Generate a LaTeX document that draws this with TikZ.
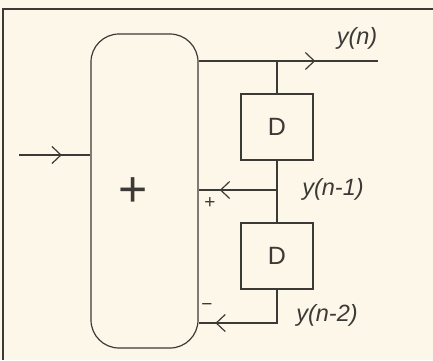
\documentclass[tikz,border=0pt]{standalone}
\usepackage{fontspec}
\setmainfont{Liberation Sans}
\usetikzlibrary{arrows.meta,decorations.markings}
\definecolor{paper}{HTML}{FDF7EA}
\definecolor{ink}{HTML}{3C3A36}
\tikzset{
  wire/.style={draw=ink, line width=1.2pt},
  midarrow/.style={postaction={decorate},decoration={markings,
     mark=at position #1 with {\arrow[ink,line width=1.2pt]{Straight Barb[length=9pt,width=17pt]}}}},
  delay/.style={draw=ink, line width=1.2pt, minimum width=72pt, minimum height=66pt, inner sep=0pt,
     font=\fontsize{25}{25}\selectfont, text=ink},
  adder/.style={draw=ink, line width=1.2pt, rounded corners=28pt, minimum width=107pt, minimum height=314pt, inner sep=0pt},
  sig/.style={font=\fontsize{23.5}{24}\selectfont\itshape, text=ink, inner sep=0pt},
  sign/.style={font=\fontsize{19}{19}\selectfont, text=ink, inner sep=0pt},
}
\begin{document}
\begin{tikzpicture}[x=1pt,y=-1pt]
\fill[paper] (0,0) rectangle (433,360);
\useasboundingbox (0,0) rectangle (433,360);
\draw[ink, line width=1.3pt] (3,360) -- (3,9) -- (433,9);

\node[adder] (add) at (144.5,191) {};
\node[font=\fontsize{50}{50}\selectfont, text=ink, inner sep=0pt] (plus) at (133,192) {+};
\node[delay] (d1) at (277,127) {D};
\node[delay] (d2) at (277,256) {D};

\coordinate (in) at (19,155);
\coordinate (out) at (378,61);
\coordinate (j1) at (277,61);
\coordinate (j2) at (277,190);
\coordinate (c2) at (277,323);

\draw[wire, midarrow=0.6] (in) -- (in -| add.west);
\draw[wire, midarrow=0.65] (out -| add.east) -- (out);
\draw[wire] (j1) -- (d1.north);
\draw[wire] (d1.south) -- (j2);
\draw[wire, midarrow=0.73] (j2) -- (j2 -| add.east);
\draw[wire] (j2) -- (d2.north);
\draw[wire, midarrow=0.85] (d2.south) -- (c2) -- (c2 -| add.east);

\node[sig] (yn) at (357,38) {y(n)};
\node[sig] (yn1) at (333,189) {y(n-1)};
\node[sig] (yn2) at (327,315) {y(n-2)};
\node[sign] (sp) at (210,203) {+};
\node[sign] (sm) at (207,307) {\textminus};
\end{tikzpicture}
\end{document}
